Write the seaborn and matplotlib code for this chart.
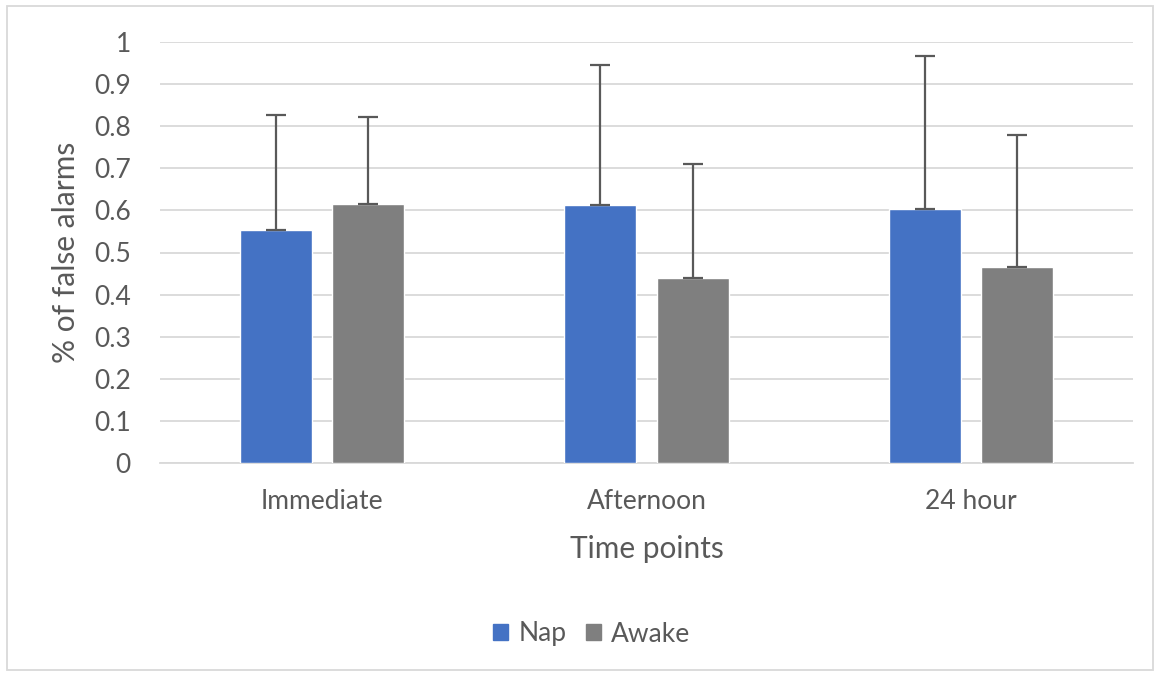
import matplotlib
matplotlib.use("Agg")
import matplotlib.pyplot as plt
import seaborn as sns
import pandas as pd
import numpy as np
from matplotlib.patches import Rectangle

categories = ["Immediate", "Afternoon", "24 hour"]
groups = ["Nap", "Awake"]
nap_values = [0.553, 0.613, 0.603]
awake_values = [0.615, 0.439, 0.466]
nap_err = [0.274, 0.333, 0.364]
awake_err = [0.207, 0.271, 0.313]
y_ticks = [0, 0.1, 0.2, 0.3, 0.4, 0.5, 0.6, 0.7, 0.8, 0.9, 1]
y_tick_labels = ["0", "0.1", "0.2", "0.3", "0.4", "0.5", "0.6", "0.7", "0.8", "0.9", "1"]

sns.set_theme(style="white")
plt.rcParams["font.family"] = ["Lato", "DejaVu Sans"]
TXT = "#595959"

df = pd.DataFrame({
    "Time": categories * 2,
    "Group": [groups[0]] * 3 + [groups[1]] * 3,
    "Value": nap_values + awake_values,
})

fig = plt.figure(figsize=(11.59, 6.76), dpi=100)
ax = fig.add_axes([160 / 1159, 1 - 463 / 676, (1133 - 160) / 1159, (463 - 42) / 676])

palette = {"Nap": "#4472C4", "Awake": "#7F7F7F"}
sns.barplot(data=df, x="Time", y="Value", hue="Group", order=categories,
            hue_order=groups, palette=palette, width=0.568, gap=0.218,
            saturation=1, errorbar=None, ax=ax, legend=True, zorder=3)

errs = {"Nap": nap_err, "Awake": awake_err}
vals = {"Nap": nap_values, "Awake": awake_values}
for cont, g in zip(ax.containers, groups):
    xs = [p.get_x() + p.get_width() / 2 for p in cont.patches]
    ax.errorbar(xs, vals[g], yerr=[np.zeros(len(xs)), errs[g]], fmt="none",
                ecolor="#595959", elinewidth=1.6, capsize=7, capthick=1.6, zorder=4)

ax.set_ylim(0, 1)
ax.set_xlim(-0.5, 2.5)
ax.set_yticks(y_ticks)
ax.set_yticklabels(y_tick_labels)
ax.yaxis.grid(True, color="#d9d9d9", linewidth=1.3, zorder=0)
ax.set_axisbelow(True)
for s in ["top", "right", "left"]:
    ax.spines[s].set_visible(False)
ax.spines["bottom"].set_color("#d9d9d9")
ax.spines["bottom"].set_linewidth(1.3)
ax.tick_params(axis="both", length=0, labelsize=19, labelcolor=TXT)
ax.tick_params(axis="y", pad=21)
ax.tick_params(axis="x", pad=19)
ax.set_xlabel("Time points", fontsize=21.5, color=TXT, labelpad=15)
ax.set_ylabel("% of false alarms", fontsize=21.5, color=TXT, labelpad=10)

leg = ax.get_legend()
if leg is not None:
    leg.remove()
handles = [Rectangle((0, 0), 1, 1, color=palette[g]) for g in groups]
fig.legend(handles, groups, loc="center", bbox_to_anchor=(592 / 1159, 1 - 634 / 676),
           ncol=2, frameon=False, fontsize=19, labelcolor=TXT, handlelength=0.55,
           handleheight=0.55, handletextpad=0.4, columnspacing=0.75)

fig.add_artist(Rectangle((7 / 1159, 6 / 676), 1146 / 1159, 664 / 676, transform=fig.transFigure,
                         fill=False, edgecolor="#d9d9d9", linewidth=1.3))

fig.savefig("out.png", dpi=100)
